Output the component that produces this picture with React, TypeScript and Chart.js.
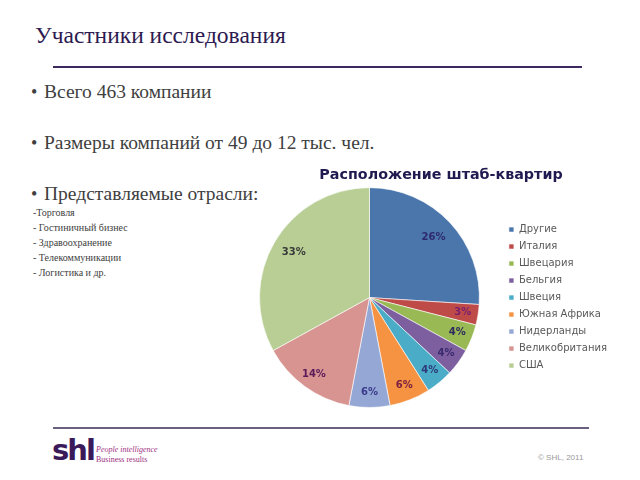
import React, { useEffect, useRef } from "react";
import { Chart, registerables } from "chart.js";

Chart.register(...registerables);

const slideTitle = "Участники исследования";
const bullets = [
  "Всего 463 компании",
  "Размеры компаний от 49 до 12 тыс. чел.",
  "Представляемые отрасли:",
];
const industries = [
  "-Торговля",
  "- Гостиничный бизнес",
  "- Здравоохранение",
  "- Телекоммуникации",
  "- Логистика и др.",
];
const chartTitle = "Расположение штаб-квартир";
const categories = [
  "Другие",
  "Италия",
  "Швецария",
  "Бельгия",
  "Швеция",
  "Южная Африка",
  "Нидерланды",
  "Великобритания",
  "США",
];
const shares = [26, 3, 4, 4, 4, 6, 6, 14, 33];

const sliceColors = [
  "#4A76AC",
  "#BE4B48",
  "#98B954",
  "#7D5FA0",
  "#4AACC6",
  "#F59342",
  "#95A8D5",
  "#D79491",
  "#B8CE95",
];
const labelColors = [
  "#2E2A6E",
  "#7A1F6E",
  "#2E2A5E",
  "#3A2A6E",
  "#2E3A7A",
  "#7A2040",
  "#3A3A8A",
  "#5A1A5A",
  "#3A3A3A",
];

const pieLabels = {
  id: "pieLabels",
  afterDatasetsDraw(chart: any) {
    const ctx = chart.ctx;
    const meta = chart.getDatasetMeta(0);
    const data = chart.data.datasets[0].data as number[];
    ctx.save();
    ctx.font = "bold 10px 'DejaVu Sans'";
    ctx.textAlign = "center";
    ctx.textBaseline = "middle";
    meta.data.forEach((arc: any, i: number) => {
      const { x, y, startAngle, endAngle, outerRadius } = arc.getProps(
        ["x", "y", "startAngle", "endAngle", "outerRadius"],
        true
      );
      const mid = (startAngle + endAngle) / 2;
      const f = data[i] > 20 ? 0.8 : 0.86;
      const r = outerRadius * f;
      ctx.fillStyle = labelColors[i];
      ctx.fillText(data[i] + "%", x + Math.cos(mid) * r, y + Math.sin(mid) * r);
    });
    ctx.restore();
  },
};

// let the title span the whole canvas width (including the right padding)
const titleSpan = {
  id: "titleSpan",
  afterLayout(chart: any) {
    if (chart.titleBlock) {
      chart.titleBlock.right = chart.width;
      chart.titleBlock.width = chart.titleBlock.right - chart.titleBlock.left;
    }
  },
};

function PieChart() {
  const ref = useRef<HTMLCanvasElement | null>(null);
  useEffect(() => {
    if (!ref.current) return;
    const chart = new Chart(ref.current, {
      type: "pie",
      data: {
        labels: categories,
        datasets: [
          {
            data: shares,
            backgroundColor: sliceColors,
            borderColor: "rgba(255,255,255,0.6)",
            borderWidth: 1,
          },
        ],
      },
      options: {
        animation: false,
        responsive: true,
        maintainAspectRatio: false,
        layout: { padding: { right: 28, left: 0, top: 0, bottom: 0 } },
        plugins: {
          title: {
            display: true,
            text: chartTitle,
            color: "#1F1A4F",
            font: { family: "'DejaVu Sans'", size: 14.3, weight: "bold" },
            padding: { top: 7, bottom: 3 },
          },
          legend: {
            position: "right",
            fullSize: false,
            labels: {
              boxWidth: 5,
              boxHeight: 5,
              padding: 7,
              color: "#595959",
              font: { family: "'DejaVu Sans'", size: 10 },
            },
          },
          tooltip: { enabled: false },
        },
      },
      plugins: [pieLabels, titleSpan],
    });
    return () => chart.destroy();
  }, []);
  return <canvas ref={ref} />;
}

export default function App() {
  const gray = "#404040";
  return (
    <div
      style={{
        position: "fixed",
        left: 0,
        top: 0,
        width: 640,
        height: 480,
        overflow: "hidden",
        background: "#fff",
        fontFamily: "'Liberation Serif', serif",
      }}
    >
      <div
        style={{
          position: "absolute",
          left: 35,
          top: 21,
          fontSize: 23.5,
          lineHeight: "28px",
          color: "#2E1A50",
          whiteSpace: "nowrap",
        }}
      >
        {slideTitle}
      </div>
      <div
        style={{
          position: "absolute",
          left: 53,
          top: 66,
          width: 529,
          height: 2,
          background: "#3C2A5E",
        }}
      />
      {bullets.map((b, i) => (
        <div
          key={b}
          style={{
            position: "absolute",
            left: 31,
            top: 80 + i * 51,
            fontSize: 19.5,
            lineHeight: "24px",
            color: gray,
            whiteSpace: "nowrap",
          }}
        >
          <span style={{ display: "inline-block", width: 13, fontSize: 18 }}>•</span>
          {b}
        </div>
      ))}
      {industries.map((t, i) => (
        <div
          key={t}
          style={{
            position: "absolute",
            left: 33,
            top: 205 + i * 14.9,
            fontSize: 10,
            lineHeight: "15px",
            color: gray,
            whiteSpace: "nowrap",
          }}
        >
          {t}
        </div>
      ))}
      <div
        style={{
          position: "absolute",
          left: 237,
          top: 160,
          width: 408,
          height: 248,
        }}
      >
        <PieChart />
      </div>
      <div
        style={{
          position: "absolute",
          left: 53,
          top: 427,
          width: 536,
          height: 2,
          background: "#6A6080",
        }}
      />
      <div
        style={{
          position: "absolute",
          left: 52,
          top: 434,
          fontFamily: "'DejaVu Sans', sans-serif",
          fontWeight: "bold",
          fontSize: 29,
          lineHeight: "32px",
          letterSpacing: -2,
          color: "#3B1A5A",
        }}
      >
        shl
      </div>
      <div
        style={{
          position: "absolute",
          left: 96,
          top: 445,
          fontSize: 8,
          lineHeight: "10px",
          fontStyle: "italic",
          color: "#A0307F",
          whiteSpace: "nowrap",
        }}
      >
        People intelligence
      </div>
      <div
        style={{
          position: "absolute",
          left: 96,
          top: 455,
          fontSize: 8,
          lineHeight: "10px",
          color: "#A0307F",
          whiteSpace: "nowrap",
        }}
      >
        Business results
      </div>
      <div
        style={{
          position: "absolute",
          left: 538,
          top: 453,
          fontFamily: "'Liberation Sans', sans-serif",
          fontSize: 8,
          lineHeight: "10px",
          color: "#999",
          whiteSpace: "nowrap",
        }}
      >
        © SHL, 2011
      </div>
    </div>
  );
}
